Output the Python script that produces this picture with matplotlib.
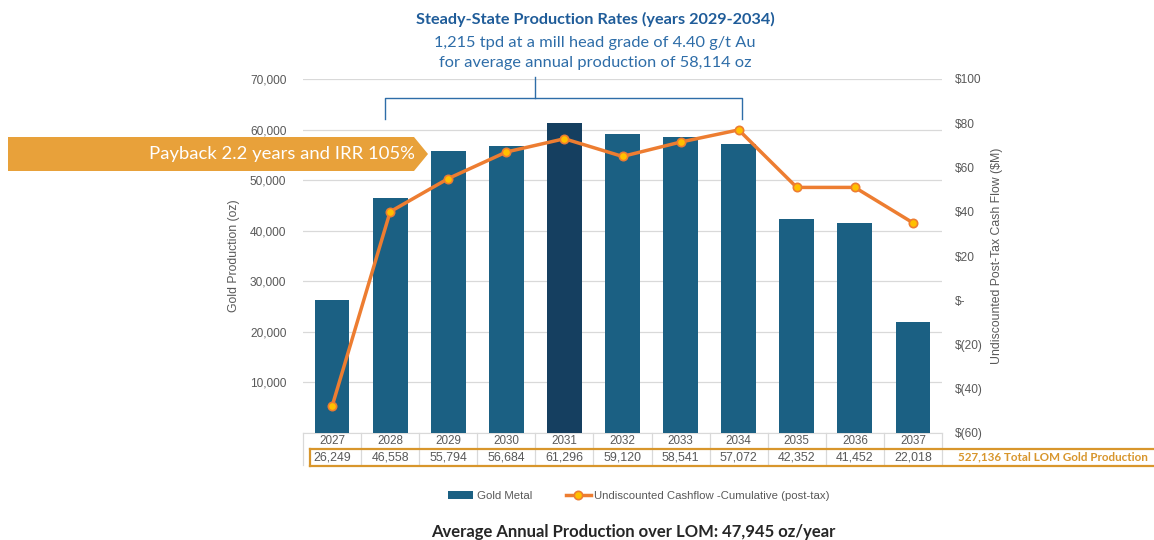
import matplotlib
matplotlib.use("Agg")
import matplotlib.pyplot as plt
import matplotlib.patches as mpatches
import matplotlib.transforms as mtransforms
from matplotlib.lines import Line2D
from matplotlib.ticker import FuncFormatter, MultipleLocator

years = ["2027", "2028", "2029", "2030", "2031", "2032", "2033", "2034", "2035", "2036", "2037"]
gold_oz = [26249, 46558, 55794, 56684, 61296, 59120, 58541, 57072, 42352, 41452, 22018]
cashflow_cum = [-48, 40, 55, 67, 73, 65, 71.5, 77, 51, 51, 35]
highlight_year = "2031"

title_bold = "Steady-State Production Rates (years 2029-2034)"
title_l2 = "1,215 tpd at a mill head grade of 4.40 g/t Au"
title_l3 = "for average annual production of 58,114 oz"
banner_text = "Payback 2.2 years and IRR 105%"
total_text = "527,136 Total LOM Gold Production"
footer_text = "Average Annual Production over LOM: 47,945 oz/year"
bar_label = "Gold Metal"
line_label = "Undiscounted Cashflow -Cumulative (post-tax)"

W, H = 1154, 540
fig = plt.figure(figsize=(W / 100, H / 100), dpi=100)
fig.patch.set_facecolor("white")

def fx(px):
    return px / W

def fy(py):
    return 1 - py / H

ax = fig.add_axes([fx(303), fy(433), fx(942) - fx(303), (433 - 79) / H])
ax2 = ax.twinx()

grey = "#595959"
grid_c = "#D9D9D9"
bar_c = "#1B6083"
bar_dark = "#153F60"
orange = "#ED7D31"
gold_c = "#D8962C"
blue_b = "#1F5C99"
blue_r = "#2E6DA8"
font = "Liberation Sans"
cfont = "Lato"

x = list(range(len(years)))
colors = [bar_dark if y == highlight_year else bar_c for y in years]
ax.bar(x, gold_oz, width=0.6, color=colors, zorder=3, label=bar_label)
ax.set_xlim(-0.5, len(years) - 0.5)
ax.set_ylim(0, 70000)
ax.yaxis.set_major_locator(MultipleLocator(10000))
ax.yaxis.set_major_formatter(FuncFormatter(lambda v, p: "" if v == 0 else f"{int(v):,}"))
ax.grid(axis="y", color=grid_c, linewidth=0.9, zorder=0)
ax.set_xticks([])
for s in ["top", "right", "left"]:
    ax.spines[s].set_visible(False)
ax.spines["bottom"].set_color(grid_c)
ax.tick_params(axis="y", length=0, pad=12, labelsize=8.6, labelcolor=grey)
for t in ax.get_yticklabels():
    t.set_fontfamily(font)
ax.set_ylabel("Gold Production (oz)", fontsize=8.8, color=grey, fontfamily=font, labelpad=7)

ax2.plot(x, cashflow_cum, color=orange, linewidth=2.5, marker="o", markersize=6,
         markerfacecolor="#FFC000", markeredgecolor=orange, markeredgewidth=1.2, zorder=5,
         label=line_label)
ax2.set_ylim(-60, 100)
ax2.yaxis.set_major_locator(MultipleLocator(20))

def money(v, p):
    v = int(round(v))
    if v == 0:
        return "$-"
    if v < 0:
        return f"$({-v})"
    return f"${v}"

ax2.yaxis.set_major_formatter(FuncFormatter(money))
for s in ["top", "right", "left", "bottom"]:
    ax2.spines[s].set_visible(False)
ax2.tick_params(axis="y", length=0, pad=9, labelsize=8.6, labelcolor=grey)
for t in ax2.get_yticklabels():
    t.set_fontfamily(font)
ax2.set_ylabel("Undiscounted Post-Tax Cash Flow ($M)", fontsize=8.8, color=grey,
               fontfamily=font, labelpad=6)

# table below axis
tr = mtransforms.blended_transform_factory(ax.transData, fig.transFigure)
for i, (yr, v) in enumerate(zip(years, gold_oz)):
    fig.text(i, fy(441), yr, transform=tr, ha="center", va="center", fontsize=8.4,
             color=grey, fontfamily=font)
    fig.text(i, fy(457), f"{v:,}", transform=tr, ha="center", va="center", fontsize=8.9,
             color=grey, fontfamily=font)
for i in range(len(years) + 1):
    b = i - 0.5
    fig.add_artist(Line2D([b, b], [fy(433), fy(465)], transform=tr, color=grid_c, linewidth=0.9))
fig.add_artist(Line2D([fx(310), fx(1154)], [fy(449), fy(449)], color=gold_c, linewidth=1.6))
fig.add_artist(Line2D([fx(310), fx(1154)], [fy(465.5), fy(465.5)], color=gold_c, linewidth=1.6))
fig.add_artist(Line2D([fx(310), fx(310)], [fy(449), fy(465.5)], color=gold_c, linewidth=1.6))
fig.text(fx(958), fy(457), total_text, ha="left", va="center", fontsize=8.4,
         color=gold_c, fontfamily=cfont, fontweight="bold")

# bracket
ax.plot([1 - 0.08, 1 - 0.08, 7.06, 7.06], [62000, 66200, 66200, 62000], color=blue_r,
        linewidth=1.0, clip_on=False, zorder=6)
ax.plot([3.49, 3.49], [66200, 70300], color=blue_r, linewidth=1.0, clip_on=False, zorder=6)

# titles
fig.text(fx(595), fy(19), title_bold, ha="center", va="center", fontsize=11.7,
         fontweight="bold", color=blue_b, fontfamily=cfont)
fig.text(fx(595), fy(43), title_l2, ha="center", va="center", fontsize=11.8,
         color=blue_r, fontfamily=cfont)
fig.text(fx(595), fy(63), title_l3, ha="center", va="center", fontsize=11.8,
         color=blue_r, fontfamily=cfont)

# banner arrow
poly = mpatches.Polygon([(fx(8), fy(137)), (fx(414), fy(137)), (fx(428), fy(154)),
                         (fx(414), fy(171)), (fx(8), fy(171))], closed=True,
                        transform=fig.transFigure, facecolor="#E8A13A", edgecolor="none",
                        zorder=10)
fig.add_artist(poly)
fig.text(fx(415), fy(154), banner_text, ha="right", va="center", fontsize=13.3,
         color="white", fontfamily=cfont, zorder=11)

# legend
h1, l1 = ax.get_legend_handles_labels()
h2, l2 = ax2.get_legend_handles_labels()
leg = fig.legend(h1 + h2, l1 + l2, loc="center", bbox_to_anchor=(fx(639), fy(496)), ncol=2,
                 frameon=False, handlelength=2.2, handletextpad=0.3,
                 columnspacing=3.0, prop={"family": font, "size": 8.2})
for t in leg.get_texts():
    t.set_color(grey)

fig.text(fx(633), fy(532), footer_text, ha="center", va="center", fontsize=12,
         fontweight="bold", color="#262626", fontfamily=cfont)

fig.savefig("out.png", dpi=100, facecolor="white")
